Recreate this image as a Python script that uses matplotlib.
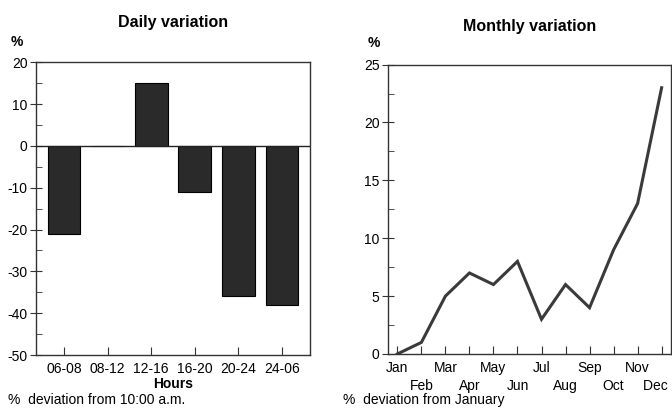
import matplotlib
matplotlib.use('Agg')
import matplotlib.pyplot as plt
from matplotlib.ticker import MultipleLocator

plt.rcParams['font.family'] = ['Liberation Sans', 'DejaVu Sans']
plt.rcParams['axes.unicode_minus'] = False

hours = ['06-08', '08-12', '12-16', '16-20', '20-24', '24-06']
daily = [-21, 0, 15, -11, -36, -38]

months = ['Jan', 'Feb', 'Mar', 'Apr', 'May', 'Jun',
          'Jul', 'Aug', 'Sep', 'Oct', 'Nov', 'Dec']
monthly = [0, 1, 5, 7, 6, 8, 3, 6, 4, 9, 13, 23]

fig = plt.figure(figsize=(6.72, 4.09), dpi=100)

# left: daily bars
ax1 = fig.add_axes([0.0536, 0.132, 0.4077, 0.716])
x = list(range(len(hours)))
ax1.bar(x, daily, width=0.75, color='#2a2a2a', edgecolor='black', linewidth=0.8, zorder=2)
ax1.axhline(0, color='#222222', lw=1, zorder=3)
ax1.set_xlim(-0.64, 5.64)
ax1.set_ylim(-50, 20)
ax1.set_xticks(x)
ax1.set_xticklabels(hours)
ax1.yaxis.set_major_locator(MultipleLocator(10))
ax1.yaxis.set_minor_locator(MultipleLocator(5))
ax1.set_xlabel('Hours', fontsize=10, fontweight='bold', labelpad=1)
ax1.set_title('Daily variation', fontsize=11.5, fontweight='bold', pad=25)
ax1.text(-0.07, 1.055, '%', transform=ax1.transAxes, fontsize=10, fontweight='bold', ha='center')
fig.text(0.012, 0.012, '%  deviation from 10:00 a.m.', fontsize=10)

# right: monthly line
ax2 = fig.add_axes([0.577, 0.1345, 0.4215, 0.7075])
m = list(range(len(months)))
ax2.plot(m, monthly, color='#3a3a3a', lw=2.2, solid_joinstyle='miter')
ax2.set_xlim(-0.4, 11.39)
ax2.set_ylim(0, 25)
ax2.set_xticks(m)
labels = [mo if i % 2 == 0 else '\n' + mo for i, mo in enumerate(months)]
labels[-1] = labels[-1] + '   '  # nudge "Dec" in from the edge
ax2.set_xticklabels(labels, linespacing=1.4)
ax2.yaxis.set_major_locator(MultipleLocator(5))
ax2.yaxis.set_minor_locator(MultipleLocator(2.5))
ax2.set_title('Monthly variation', fontsize=11.5, fontweight='bold', pad=24)
ax2.text(-0.05, 1.06, '%', transform=ax2.transAxes, fontsize=10, fontweight='bold', ha='center')
fig.text(0.51, 0.012, '%  deviation from January', fontsize=10)

for ax in (ax1, ax2):
    for s in ax.spines.values():
        s.set_color('#333333')
        s.set_linewidth(1)
    ax.tick_params(axis='x', direction='in', length=6, labelsize=10, pad=5, color='#333333')
    ax.tick_params(axis='y', which='major', direction='inout', length=8, labelsize=10, pad=2, color='#333333')
    ax.tick_params(axis='y', which='minor', direction='in', length=4, color='#333333')

fig.savefig('out.png', dpi=100)
